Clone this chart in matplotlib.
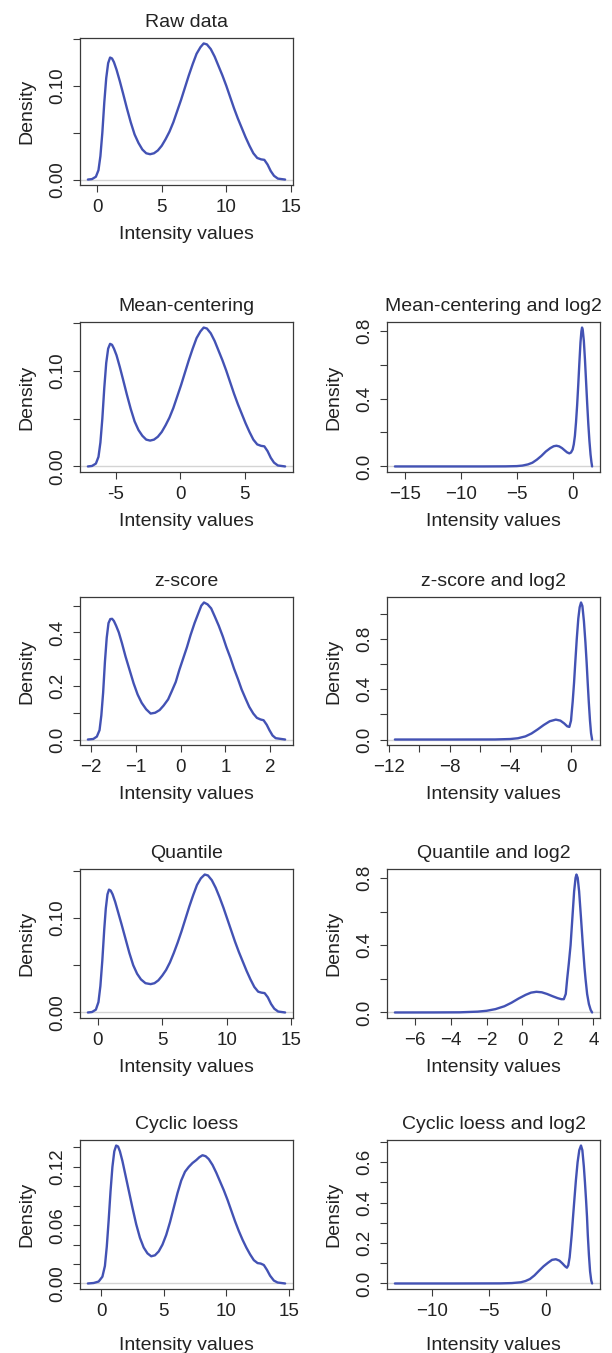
import matplotlib

matplotlib.use("Agg")
import matplotlib.pyplot as plt

plt.rcParams["font.family"] = ["Liberation Sans", "DejaVu Sans"]

M = "\u2212"

# ---- density curves (x, density) ----
raw_x = [-0.72, -0.4, -0.1, 0.1, 0.25, 0.4, 0.55, 0.7, 0.85, 1.0, 1.15, 1.3, 1.5,
         1.75, 2.0, 2.3, 2.6, 2.9, 3.2, 3.5, 3.8, 4.1, 4.4, 4.7, 5.0, 5.3, 5.6,
         5.9, 6.2, 6.5, 6.8, 7.1, 7.4, 7.7, 8.0, 8.25, 8.5, 8.8, 9.1, 9.4, 9.7,
         10.0, 10.3, 10.6, 10.9, 11.2, 11.5, 11.8, 12.1, 12.4, 12.7, 12.95, 13.2,
         13.45, 13.7, 14.0, 14.56]
raw_y = [0.0, 0.0005, 0.003, 0.010, 0.025, 0.050, 0.082, 0.108, 0.124, 0.130, 0.129,
         0.125, 0.117, 0.105, 0.092, 0.076, 0.061, 0.048, 0.039, 0.032, 0.028, 0.027,
         0.028, 0.031, 0.036, 0.043, 0.051, 0.061, 0.073, 0.085, 0.098, 0.111, 0.123,
         0.134, 0.141, 0.145, 0.144, 0.139, 0.131, 0.121, 0.111, 0.100, 0.088, 0.076,
         0.065, 0.055, 0.045, 0.036, 0.028, 0.023, 0.0215, 0.021, 0.016, 0.009,
         0.004, 0.001, 0.0]

mc_x = [-7.14, -6.82, -6.52, -6.32, -6.17, -6.02, -5.87, -5.72, -5.57, -5.42, -5.27,
        -5.12, -4.92, -4.67, -4.42, -4.12, -3.82, -3.52, -3.22, -2.92, -2.62, -2.32,
        -2.02, -1.72, -1.42, -1.12, -0.82, -0.52, -0.22, 0.08, 0.38, 0.68, 0.98,
        1.28, 1.58, 1.83, 2.08, 2.38, 2.68, 2.98, 3.28, 3.58, 3.88, 4.18, 4.48,
        4.78, 5.08, 5.38, 5.68, 5.98, 6.28, 6.53, 6.78, 7.03, 7.28, 7.58, 8.14]
mc_y = [0.0, 0.0005, 0.003, 0.010, 0.025, 0.050, 0.082, 0.108, 0.123, 0.128, 0.127,
        0.123, 0.116, 0.104, 0.091, 0.075, 0.060, 0.047, 0.038, 0.032, 0.028, 0.027,
        0.028, 0.031, 0.036, 0.043, 0.051, 0.061, 0.073, 0.085, 0.098, 0.111, 0.123,
        0.134, 0.141, 0.145, 0.144, 0.139, 0.131, 0.121, 0.111, 0.100, 0.088, 0.076,
        0.065, 0.055, 0.045, 0.036, 0.028, 0.023, 0.0215, 0.021, 0.016, 0.009,
        0.004, 0.001, 0.0]

mcl_x = [-15.9, -12.0, -8.0, -6.0, -5.0, -4.5, -4.0, -3.6, -3.2, -2.8, -2.4, -2.0,
         -1.7, -1.45, -1.2, -0.95, -0.7, -0.5, -0.3, -0.15, 0.0, 0.1, 0.2, 0.3, 0.4,
         0.5, 0.6, 0.7, 0.78, 0.84, 0.9, 1.0, 1.1, 1.2, 1.3, 1.4, 1.5, 1.6, 1.68,
         1.74]
mcl_y = [0.0, 0.0, 0.0, 0.0005, 0.002, 0.005, 0.012, 0.022, 0.040, 0.062, 0.088,
         0.108, 0.119, 0.122, 0.118, 0.108, 0.094, 0.083, 0.077, 0.082, 0.10, 0.13,
         0.18, 0.26, 0.36, 0.48, 0.61, 0.73, 0.795, 0.818, 0.805, 0.74, 0.63, 0.50,
         0.37, 0.25, 0.15, 0.07, 0.025, 0.0]

z_x = [-2.07, -1.95, -1.87, -1.81, -1.77, -1.73, -1.69, -1.65, -1.61, -1.57, -1.53,
       -1.49, -1.44, -1.38, -1.31, -1.23, -1.14, -1.05, -0.96, -0.87, -0.77, -0.67,
       -0.57, -0.47, -0.38, -0.28, -0.2, -0.11, -0.03, 0.05, 0.14, 0.22, 0.31, 0.39,
       0.46, 0.52, 0.6, 0.68, 0.76, 0.85, 0.94, 1.02, 1.11, 1.19, 1.28, 1.36, 1.45,
       1.53, 1.62, 1.7, 1.78, 1.85, 1.92, 1.98, 2.05, 2.12, 2.33]
z_y = [0.0, 0.002, 0.011, 0.035, 0.09, 0.175, 0.29, 0.38, 0.435, 0.45, 0.451, 0.443,
       0.425, 0.40, 0.36, 0.31, 0.26, 0.21, 0.168, 0.137, 0.113, 0.097, 0.10, 0.11,
       0.127, 0.15, 0.18, 0.215, 0.26, 0.30, 0.345, 0.39, 0.435, 0.47, 0.50, 0.512,
       0.505, 0.49, 0.46, 0.425, 0.385, 0.345, 0.305, 0.265, 0.225, 0.187, 0.152,
       0.122, 0.097, 0.081, 0.075, 0.072, 0.055, 0.035, 0.015, 0.005, 0.0]

zl_x = [-11.6, -8.0, -5.0, -4.0, -3.5, -3.0, -2.6, -2.2, -1.8, -1.4, -1.0, -0.7,
        -0.45, -0.25, -0.11, 0.0, 0.05, 0.11, 0.2, 0.28, 0.38, 0.48, 0.57, 0.66,
        0.75, 0.85, 0.95, 1.03, 1.1, 1.17, 1.25, 1.32, 1.39]
zl_y = [0.0, 0.0, 0.0005, 0.004, 0.010, 0.025, 0.048, 0.080, 0.115, 0.145, 0.158,
        0.150, 0.128, 0.105, 0.10, 0.15, 0.22, 0.30, 0.45, 0.61, 0.80, 0.96, 1.05,
        1.088, 1.06, 0.94, 0.77, 0.61, 0.45, 0.30, 0.15, 0.05, 0.0]

q_x = [-0.77, -0.45, -0.15, 0.05, 0.2, 0.35, 0.5, 0.62, 0.75, 0.87, 1.0, 1.15, 1.35,
       1.6, 1.85, 2.15, 2.45, 2.75, 3.05, 3.35, 3.7, 4.1, 4.4, 4.7, 5.0, 5.3, 5.6,
       5.9, 6.2, 6.5, 6.8, 7.1, 7.4, 7.7, 8.0, 8.3, 8.55, 8.85, 9.15, 9.45, 9.75,
       10.05, 10.35, 10.65, 10.95, 11.25, 11.55, 11.85, 12.15, 12.45, 12.7, 12.95,
       13.2, 13.45, 13.7, 14.0, 14.54]
q_y = [0.0, 0.0005, 0.003, 0.011, 0.028, 0.055, 0.088, 0.110, 0.125, 0.130, 0.129,
       0.125, 0.117, 0.105, 0.093, 0.078, 0.063, 0.050, 0.041, 0.035, 0.031, 0.030,
       0.031, 0.034, 0.039, 0.045, 0.053, 0.063, 0.074, 0.086, 0.099, 0.112, 0.124,
       0.135, 0.142, 0.146, 0.145, 0.140, 0.132, 0.122, 0.111, 0.099, 0.087, 0.075,
       0.064, 0.054, 0.044, 0.035, 0.027, 0.022, 0.021, 0.0205, 0.016, 0.009, 0.004,
       0.001, 0.0]

ql_x = [-7.15, -5.0, -3.5, -2.5, -2.0, -1.5, -1.0, -0.6, -0.2, 0.2, 0.5, 0.8, 1.1,
        1.4, 1.7, 2.0, 2.2, 2.34, 2.45, 2.53, 2.62, 2.72, 2.82, 2.92, 3.0, 3.05,
        3.12, 3.2, 3.3, 3.41, 3.5, 3.56, 3.65, 3.75, 3.85, 3.93]
ql_y = [0.0, 0.0003, 0.001, 0.005, 0.010, 0.020, 0.037, 0.058, 0.083, 0.105, 0.118,
        0.123, 0.120, 0.110, 0.097, 0.085, 0.079, 0.079, 0.11, 0.20, 0.29, 0.40, 0.56,
        0.72, 0.80, 0.82, 0.80, 0.72, 0.57, 0.40, 0.27, 0.20, 0.11, 0.05, 0.015, 0.0]

cy_x = [-1.06, -0.6, -0.2, 0.1, 0.3, 0.45, 0.6, 0.75, 0.9, 1.05, 1.2, 1.35, 1.5, 1.7,
        1.95, 2.2, 2.5, 2.8, 3.1, 3.4, 3.7, 4.0, 4.3, 4.6, 4.9, 5.2, 5.5, 5.8, 6.1,
        6.4, 6.7, 7.0, 7.3, 7.6, 7.85, 8.1, 8.35, 8.6, 8.9, 9.2, 9.5, 9.8, 10.1,
        10.4, 10.7, 11.0, 11.3, 11.6, 11.9, 12.2, 12.5, 12.75, 13.0, 13.25, 13.5,
        13.8, 14.1, 14.7]
cy_y = [0.0, 0.0005, 0.002, 0.007, 0.018, 0.038, 0.065, 0.095, 0.120, 0.136, 0.142,
        0.141, 0.136, 0.126, 0.111, 0.096, 0.078, 0.061, 0.047, 0.037, 0.031, 0.028,
        0.029, 0.033, 0.040, 0.050, 0.063, 0.078, 0.093, 0.106, 0.115, 0.120, 0.124,
        0.127, 0.130, 0.132, 0.131, 0.128, 0.122, 0.114, 0.105, 0.096, 0.086, 0.075,
        0.064, 0.054, 0.045, 0.037, 0.030, 0.024, 0.021, 0.0205, 0.019, 0.014, 0.008,
        0.003, 0.001, 0.0]

cyl_x = [-13.3, -8.0, -4.0, -3.0, -2.2, -1.8, -1.4, -1.0, -0.6, -0.2, 0.2, 0.55, 0.89,
         1.2, 1.45, 1.7, 1.86, 1.98, 2.1, 2.2, 2.28, 2.4, 2.51, 2.65, 2.8, 2.95, 3.1,
         3.22, 3.35, 3.45, 3.55, 3.63, 3.7, 3.8, 3.9, 4.0, 4.08]
cyl_y = [0.0, 0.0, 0.0005, 0.002, 0.006, 0.012, 0.022, 0.040, 0.063, 0.085, 0.103,
         0.117, 0.120, 0.113, 0.100, 0.085, 0.078, 0.09, 0.13, 0.19, 0.24, 0.33, 0.41,
         0.51, 0.60, 0.66, 0.683, 0.66, 0.58, 0.50, 0.41, 0.33, 0.24, 0.14, 0.06,
         0.015, 0.0]

# ---- panel titles, ticks and tick labels ----
titles = ["Raw data", "Mean-centering", "Mean-centering and log2", "z-score",
          "z-score and log2", "Quantile", "Quantile and log2", "Cyclic loess",
          "Cyclic loess and log2"]
xticks = [[0, 5, 10, 15], [-5, 0, 5], [-15, -10, -5, 0], [-2, -1, 0, 1, 2],
          [-12, -10, -8, -6, -4, -2, 0], [0, 5, 10, 15], [-6, -4, -2, 0, 2, 4],
          [0, 5, 10, 15], [-10, -5, 0]]
xlabels = [["0", "5", "10", "15"], ["-5", "0", "5"],
           [M + "15", M + "10", M + "5", "0"],
           [M + "2", M + "1", "0", "1", "2"],
           [M + "12", "", M + "8", "", M + "4", "", "0"],
           ["0", "5", "10", "15"],
           [M + "6", M + "4", M + "2", "0", "2", "4"],
           ["0", "5", "10", "15"], [M + "10", M + "5", "0"]]
yticks = [[0, 0.05, 0.10, 0.15], [0, 0.05, 0.10, 0.15], [0, 0.2, 0.4, 0.6, 0.8],
          [0, 0.1, 0.2, 0.3, 0.4, 0.5], [0, 0.2, 0.4, 0.6, 0.8, 1.0],
          [0, 0.05, 0.10, 0.15], [0, 0.2, 0.4, 0.6, 0.8],
          [0, 0.02, 0.04, 0.06, 0.08, 0.10, 0.12, 0.14],
          [0, 0.1, 0.2, 0.3, 0.4, 0.5, 0.6, 0.7]]
ylabels = [["0.00", "", "0.10", ""], ["0.00", "", "0.10", ""],
           ["0.0", "", "0.4", "", "0.8"], ["0.0", "", "0.2", "", "0.4", ""],
           ["0.0", "", "0.4", "", "0.8", ""], ["0.00", "", "0.10", ""],
           ["0.0", "", "0.4", "", "0.8"],
           ["0.00", "", "", "0.06", "", "", "0.12", ""],
           ["0.0", "", "0.2", "", "0.4", "", "0.6", ""]]
curves = [(raw_x, raw_y), (mc_x, mc_y), (mcl_x, mcl_y), (z_x, z_y), (zl_x, zl_y),
          (q_x, q_y), (ql_x, ql_y), (cy_x, cy_y), (cyl_x, cyl_y)]

W, H = 612, 1353
rows = [(38, 185), (322, 472), (597, 745), (869, 1018), (1140, 1289)]
cols = [(80, 293), (387, 600)]
slots = [(0, 0), (1, 0), (1, 1), (2, 0), (2, 1), (3, 0), (3, 1), (4, 0), (4, 1)]

LINE = "#4352b4"
EDGE = "#3a3a3a"

fig = plt.figure(figsize=(W / 100, H / 100), dpi=100)
fig.patch.set_facecolor("white")

for i, (r, c) in enumerate(slots):
    top, bot = rows[r]
    left, right = cols[c]
    ax = fig.add_axes([left / W, 1 - bot / H, (right - left) / W, (bot - top) / H])
    x, y = curves[i]
    ax.axhline(0, color="#d4d4d4", lw=1.0, zorder=1)
    ax.plot(x, y, color=LINE, lw=1.7, solid_joinstyle="round",
            solid_capstyle="round", zorder=2)

    # R-style 4% padding around the data range
    xr = max(x) - min(x)
    yr = max(y) - min(y)
    ax.set_xlim(min(x) - 0.04 * xr, max(x) + 0.04 * xr)
    ax.set_ylim(min(y) - 0.04 * yr, max(y) + 0.04 * yr)

    ax.set_xticks(xticks[i])
    ax.set_xticklabels(xlabels[i])
    ax.set_yticks(yticks[i])
    ax.set_yticklabels(ylabels[i], rotation=90, va="center")
    ax.tick_params(direction="out", length=5, width=0.8, color=EDGE,
                   labelsize=13.5, labelcolor="#222222", pad=5)
    for s in ax.spines.values():
        s.set_color(EDGE)
        s.set_linewidth(0.9)

    ax.set_title(titles[i], fontsize=14, color="#222222", pad=8)
    ax.set_ylabel("Density", fontsize=14, color="#222222", labelpad=10)
    ax.set_xlabel("Intensity values", fontsize=14, color="#222222",
                  labelpad=12 if r == 4 else 7)

fig.savefig("out.png", dpi=100, facecolor="white")
